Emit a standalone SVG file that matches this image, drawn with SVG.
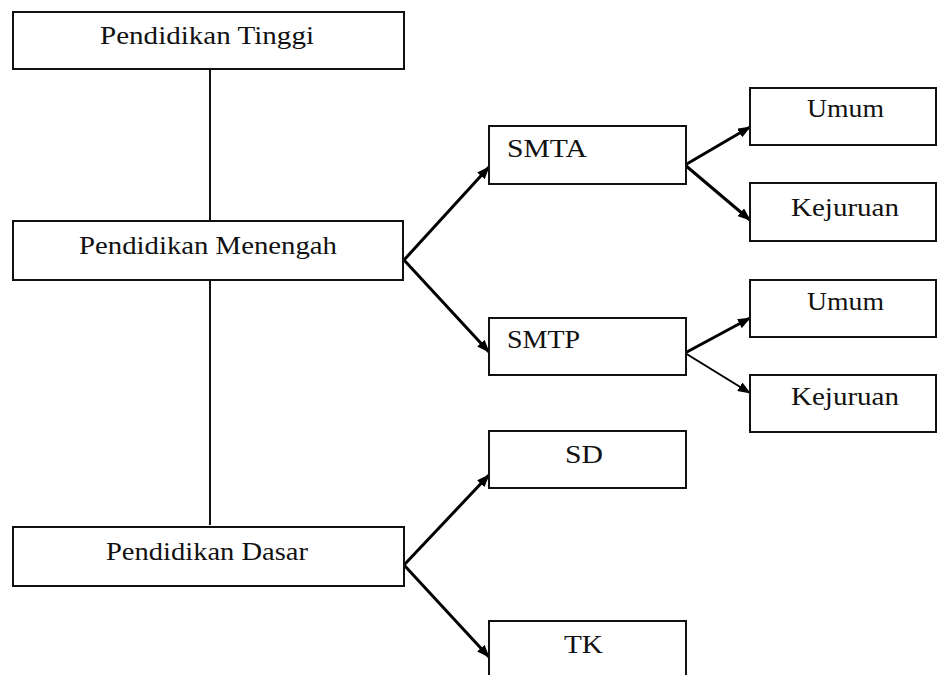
<svg xmlns="http://www.w3.org/2000/svg" width="938" height="675" viewBox="0 0 938 675">
<defs>
<marker id="ah" markerUnits="userSpaceOnUse" markerWidth="13" markerHeight="10" refX="12" refY="5" orient="auto">
<path d="M0,0 L13,5 L0,10 z" fill="#000"/>
</marker>
<style>
.box{fill:#fff;stroke:#111;stroke-width:2}
.t{font-family:"Liberation Serif","Times New Roman",serif;font-size:25px;fill:#111}
.ln{stroke:#111;stroke-width:2;fill:none}
.ar{stroke:#000;stroke-width:3;fill:none;marker-end:url(#ah)}
.ar2{stroke:#000;stroke-width:2;fill:none;marker-end:url(#ah)}
</style>
</defs>
<rect width="938" height="675" fill="#fff"/>
<g id="connectors">
<line class="ln" x1="210" y1="69" x2="210" y2="221"/>
<line class="ln" x1="210" y1="280" x2="210" y2="525"/>
<line class="ar" x1="404" y1="260" x2="489" y2="167"/>
<line class="ar" x1="404" y1="260" x2="489" y2="352"/>
<line class="ar" x1="685" y1="165" x2="750" y2="127"/>
<line class="ar" x1="685" y1="165" x2="750" y2="220"/>
<line class="ar" x1="685" y1="353" x2="750" y2="318"/>
<line class="ar2" x1="685" y1="353" x2="750" y2="393"/>
<line class="ar" x1="404" y1="565" x2="489" y2="475"/>
<line class="ar" x1="404" y1="565" x2="489" y2="657"/>
</g>
<g id="tinggi"><rect class="box" x="13" y="12" width="391" height="57"/><text class="t" x="100" y="44" textLength="214" lengthAdjust="spacingAndGlyphs">Pendidikan Tinggi</text></g>
<g id="menengah"><rect class="box" x="13" y="221" width="390" height="59"/><text class="t" x="79" y="254" textLength="258" lengthAdjust="spacingAndGlyphs">Pendidikan Menengah</text></g>
<g id="dasar"><rect class="box" x="13" y="527" width="391" height="59"/><text class="t" x="106" y="560" textLength="202" lengthAdjust="spacingAndGlyphs">Pendidikan Dasar</text></g>
<g id="smta"><rect class="box" x="489" y="126" width="197" height="58"/><text class="t" x="507" y="157" textLength="80" lengthAdjust="spacingAndGlyphs">SMTA</text></g>
<g id="smtp"><rect class="box" x="489" y="318" width="197" height="57"/><text class="t" x="507" y="348" textLength="73" lengthAdjust="spacingAndGlyphs">SMTP</text></g>
<g id="sd"><rect class="box" x="489" y="431" width="197" height="57"/><text class="t" x="565" y="463" textLength="38" lengthAdjust="spacingAndGlyphs">SD</text></g>
<g id="tk"><rect class="box" x="489" y="621" width="197" height="60"/><text class="t" x="564" y="653" textLength="39" lengthAdjust="spacingAndGlyphs">TK</text></g>
<g id="umum1"><rect class="box" x="750" y="88" width="186" height="57"/><text class="t" x="807" y="117" textLength="77" lengthAdjust="spacingAndGlyphs">Umum</text></g>
<g id="kejuruan1"><rect class="box" x="750" y="183" width="186" height="58"/><text class="t" x="791" y="216" textLength="108" lengthAdjust="spacingAndGlyphs">Kejuruan</text></g>
<g id="umum2"><rect class="box" x="750" y="280" width="186" height="57"/><text class="t" x="807" y="310" textLength="77" lengthAdjust="spacingAndGlyphs">Umum</text></g>
<g id="kejuruan2"><rect class="box" x="750" y="375" width="186" height="57"/><text class="t" x="791" y="405" textLength="108" lengthAdjust="spacingAndGlyphs">Kejuruan</text></g>
</svg>
